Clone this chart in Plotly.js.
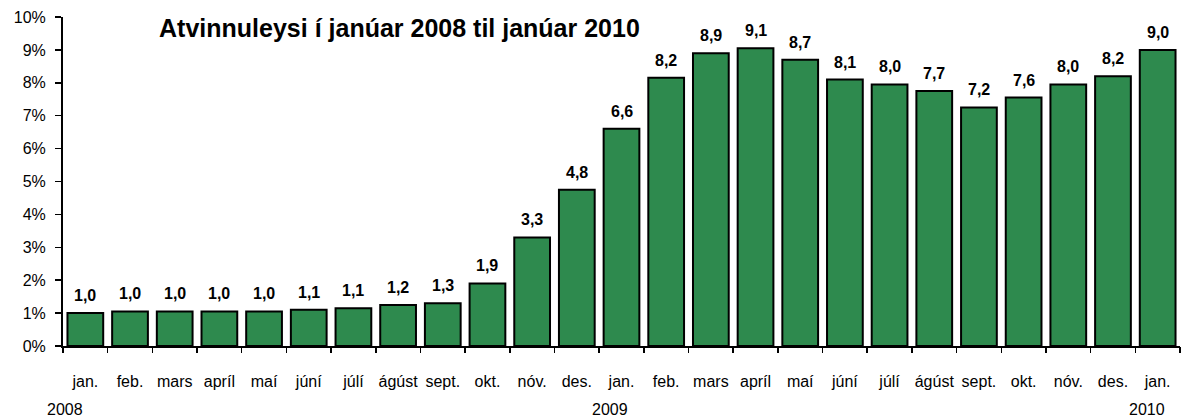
<!DOCTYPE html>
<html>
<head>
<meta charset="utf-8">
<script src="https://cdn.plot.ly/plotly-3.0.1.min.js"></script>
<style>html,body{margin:0;padding:0;background:#fff;}#chart{width:1184px;height:418px;}</style>
</head>
<body>
<div id="chart"></div>
<script>
const months = ["jan.","feb.","mars","apríl","maí","júní","júlí","ágúst","sept.","okt.","nóv.","des.",
                "jan.","feb.","mars","apríl","maí","júní","júlí","ágúst","sept.","okt.","nóv.","des.","jan."];
const values = [1.0,1.05,1.05,1.05,1.05,1.1,1.15,1.25,1.3,1.9,3.3,4.75,
                6.6,8.15,8.9,9.05,8.7,8.1,7.95,7.75,7.25,7.55,7.95,8.2,9.0];
const labels = ["1,0","1,0","1,0","1,0","1,0","1,1","1,1","1,2","1,3","1,9","3,3","4,8",
                "6,6","8,2","8,9","9,1","8,7","8,1","8,0","7,7","7,2","7,6","8,0","8,2","9,0"];
const years = ["2008","2009","2010"];
const yearPos = [-0.45, 11.74, 23.76];
const yTicks = [0,1,2,3,4,5,6,7,8,9,10];
const yTickText = yTicks.map(v => v + "%");
const titleText = "Atvinnuleysi í janúar 2008 til janúar 2010";

const idx = months.map((m, i) => i);
const font = "Liberation Sans, Arial, sans-serif";

const trace = {
  type: "bar",
  x: idx,
  y: values,
  marker: {color: "#2e8a4e", line: {color: "#000", width: 2}},
  hoverinfo: "skip"
};

const annotations = [];
values.forEach((v, i) => {
  annotations.push({
    x: i, y: v, xref: "x", yref: "y", text: labels[i], showarrow: false,
    yanchor: "bottom", yshift: 7,
    font: {family: font, size: 16, color: "#000", weight: "bold"}
  });
});
years.forEach((yr, i) => {
  annotations.push({
    x: yearPos[i], y: 0, xref: "x", yref: "paper", text: yr, showarrow: false,
    yanchor: "top", yshift: -53,
    font: {family: font, size: 16, color: "#000"}
  });
});

const layout = {
  width: 1184, height: 418,
  margin: {l: 63, r: 4, t: 17, b: 72},
  paper_bgcolor: "#fff", plot_bgcolor: "#fff",
  showlegend: false,
  bargap: 0.2,
  title: {
    text: "<b>" + titleText + "</b>",
    font: {family: font, size: 25, color: "#000"},
    xref: "paper", x: 0.086, xanchor: "left",
    yref: "container", y: 1 - 28/418, yanchor: "middle"
  },
  xaxis: {
    type: "linear",
    range: [-0.5, months.length - 0.5],
    tickmode: "array", tickvals: idx, ticktext: months,
    showgrid: false, zeroline: false,
    showline: true, linecolor: "#000", linewidth: 2,
    ticks: "",
    tickfont: {family: font, size: 16, color: "#000"},
    ticklabelstandoff: 20
  },
  xaxis2: {
    overlaying: "x", range: [-0.5, months.length - 0.5],
    tickmode: "array",
    tickvals: idx.map(i => i - 0.5).concat([months.length - 0.5]),
    ticktext: idx.map(() => "").concat([""]),
    ticks: "outside", ticklen: 6, tickwidth: 1.5, tickcolor: "#000",
    showgrid: false, zeroline: false, showline: false, side: "bottom",
    anchor: "y"
  },
  yaxis: {
    range: [0, 10],
    tickmode: "array", tickvals: yTicks, ticktext: yTickText,
    showgrid: false, zeroline: false,
    showline: true, linecolor: "#000", linewidth: 2,
    ticks: "outside", ticklen: 6, tickwidth: 1.5, tickcolor: "#000",
    tickfont: {family: font, size: 16, color: "#000"},
    ticklabelstandoff: 6
  },
  annotations: annotations
};

const dummy = {type: "scatter", x: [0], y: [0], xaxis: "x2", mode: "markers", marker: {opacity: 0}, hoverinfo: "skip"};

Plotly.newPlot("chart", [trace, dummy], layout, {displayModeBar: false, staticPlot: true});
</script>
</body>
</html>
